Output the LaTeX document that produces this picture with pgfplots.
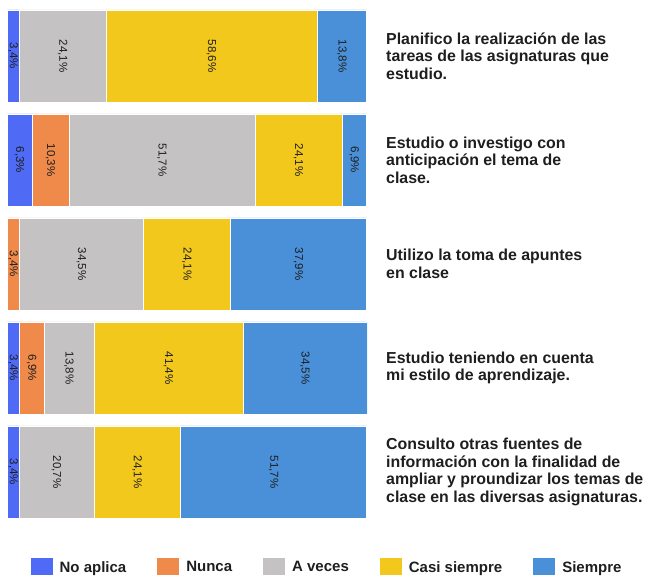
\documentclass[border=0pt]{standalone}
\usepackage{pgfplots}
\pgfplotsset{compat=1.18}
\usepackage{fontspec}
\setmainfont{Liberation Sans}
\definecolor{cNo}{HTML}{4F6BF5}
\definecolor{cNu}{HTML}{EF8A4B}
\definecolor{cAv}{HTML}{C4C2C2}
\definecolor{cCs}{HTML}{F2C81D}
\definecolor{cSi}{HTML}{4A90D9}
\definecolor{txt}{HTML}{1E1E1E}
\begin{document}
\begin{tikzpicture}
\useasboundingbox (0,0) rectangle (652pt,577pt);
\begin{axis}[
  at={(7pt,59pt)}, anchor=south west,
  scale only axis, width=360pt, height=508pt,
  xbar stacked, bar width=0.885,
  xmin=0, xmax=100, ymin=0.5575, ymax=5.4425,
  axis line style={draw=none}, tick style={draw=none},
  xtick=\empty,
  ytick={1,2,3,4,5},
  yticklabel pos=right,
  yticklabels={
    {Consulto otras fuentes de\\información con la finalidad de\\ampliar y proundizar los temas de\\clase en las diversas asignaturas.},
    {Estudio teniendo en cuenta\\mi estilo de aprendizaje.},
    {Utilizo la toma de apuntes\\en clase},
    {Estudio o investigo con\\anticipación el tema de\\clase.},
    {Planifico la realización de las\\tareas de las asignaturas que\\estudio.}},
  yticklabel style={align=left, anchor=west, inner sep=0pt, xshift=19pt,
    font=\bfseries\fontsize{15.9}{17.5}\selectfont, text=txt},
  point meta=explicit symbolic,
  nodes near coords,
  every node near coord/.style={
    anchor=center, rotate=-90, inner sep=0pt,
    font=\fontsize{11.5}{13}\selectfont, text=txt},
  every axis plot/.append style={draw=white, line width=0.5pt},
  legend columns=5,
  legend style={at={(0.889,-0.0965)}, anchor=center, draw=none, fill=none,
    font=\bfseries\fontsize{15}{17}\selectfont, text=txt,
    /tikz/every odd column/.append style={column sep=5pt},
    /tikz/every even column/.append style={column sep=29pt}},
  legend image code/.code={\fill[#1,draw=none] (0pt,-8pt) rectangle (22pt,9pt);},
]
\addplot[fill=cNo] coordinates {(3.4,1) [3,4\%] (3.4,2) [3,4\%] (0,3) [] (6.9,4) [6,3\%] (3.4,5) [3,4\%]};
\addplot[fill=cNu] coordinates {(0,1) [] (6.9,2) [6,9\%] (3.4,3) [3,4\%] (10.3,4) [10,3\%] (0,5) []};
\addplot[fill=cAv] coordinates {(20.7,1) [20,7\%] (13.8,2) [13,8\%] (34.5,3) [34,5\%] (51.7,4) [51,7\%] (24.1,5) [24,1\%]};
\addplot[fill=cCs] coordinates {(24.1,1) [24,1\%] (41.4,2) [41,4\%] (24.1,3) [24,1\%] (24.1,4) [24,1\%] (58.6,5) [58,6\%]};
\addplot[fill=cSi] coordinates {(51.7,1) [51,7\%] (34.5,2) [34,5\%] (37.9,3) [37,9\%] (6.9,4) [6,9\%] (13.8,5) [13,8\%]};
\legend{No aplica, Nunca, A veces, Casi siempre, Siempre}
\end{axis}
\end{tikzpicture}
\end{document}
